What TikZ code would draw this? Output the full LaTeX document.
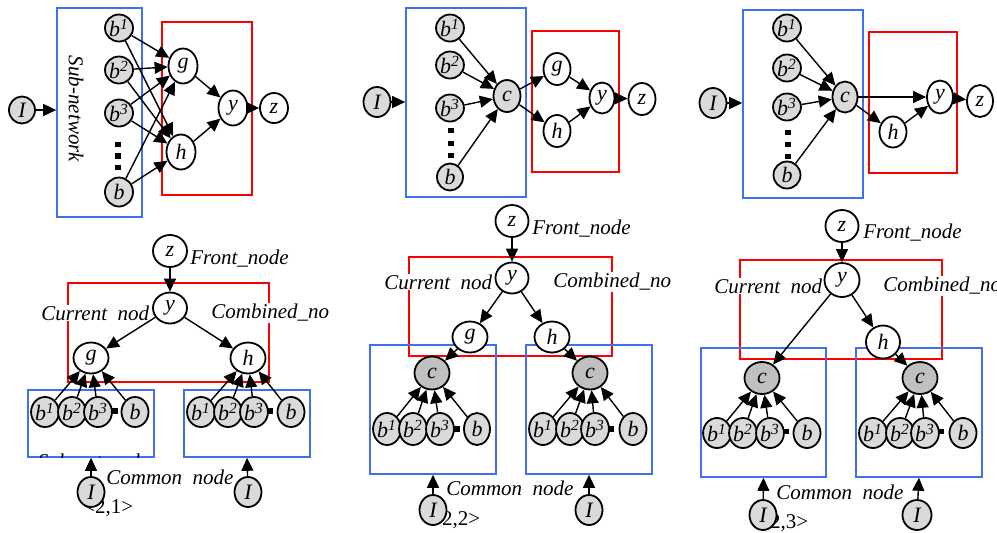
\documentclass[tikz,border=0pt]{standalone}
\usepackage{fontspec}
\setmainfont{Liberation Serif}
\usepackage{xcolor}
\usetikzlibrary{shapes.geometric, arrows.meta, positioning}
\definecolor{netblue}{RGB}{66,110,245}
\definecolor{bgray}{RGB}{218,218,218}
\definecolor{cgray}{RGB}{192,192,192}
\tikzset{
    bnode/.style={
        ellipse,
        line width=0.9pt,
        draw=black,
        fill=bgray,
        inner sep=0pt,
        minimum width=14pt,
        minimum height=14pt,
        font=\fontsize{11}{12}\selectfont\itshape,
    },
    wnode/.style={
        bnode,
        fill=white,
    },
    cnode/.style={
        bnode,
        fill=cgray,
    },
    sqdot/.style={
        rectangle,
        fill=black,
        inner sep=0pt,
        minimum width=3pt,
        minimum height=2.7pt,
    },
    bluebox/.style={
        rectangle,
        draw=netblue,
        line width=0.8pt,
        inner sep=0pt,
    },
    redbox/.style={
        rectangle,
        draw=red,
        line width=0.8pt,
        inner sep=0pt,
    },
    lbl/.style={
        font=\fontsize{10.5}{12}\selectfont\itshape,
        inner sep=0.5pt,
    },
    arr/.style={
        -{Triangle[length=6.5pt,width=6pt]},
        line width=0.7pt,
    },
}
\newcommand{\bsup}[1]{b\textsuperscript{#1}}

\begin{document}
\begin{tikzpicture}[x=0.5pt, y=-0.5pt]
    \useasboundingbox (0,0) rectangle (997,532);

    % ---------- top row ----------
    % panel <2,1>
    \node[bluebox, minimum width=42.5pt, minimum height=104.5pt] (t1net) at (99.5,112.5) {};
    \node[redbox, minimum width=45pt, minimum height=86.5pt] (t1cmb) at (207,108.5) {};
    \node[lbl, rotate=-90] at (76,109) {Sub-network};
    \node[bnode, minimum width=13pt, minimum height=13.5pt] (t1I) at (22,110) {I};
    \node[bnode, minimum height=13.5pt] (t1b1) at (119,28) {\bsup{1}};
    \node[bnode, minimum height=13.5pt] (t1b2) at (119,70) {\bsup{2}};
    \node[bnode, minimum height=13.5pt] (t1b3) at (119,113) {\bsup{3}};
    \node[bnode, minimum height=14.5pt] (t1b4) at (119,192) {b};
    \foreach \y [count=\i] in {144.5,156,167.5}
        \node[sqdot] (t1d\i) at (118,\y) {};
    \node[wnode, minimum width=14.5pt, minimum height=17.5pt] (t1g) at (183,66) {g};
    \node[wnode, minimum width=14.5pt, minimum height=17.5pt] (t1h) at (181,152) {h};
    \node[wnode, minimum width=14.5pt, minimum height=17.5pt] (t1y) at (233,108) {y};
    \node[wnode, minimum width=14pt, minimum height=15pt] (t1z) at (274,108) {z};
    \draw[arr] (t1I) -- (t1net.west |- t1I);
    \foreach \s in {b1,b2,b3,b4}
        \foreach \t in {g,h}
            \draw[arr] (t1\s) -- (t1\t);
    \draw[arr] (t1g) -- (t1y);
    \draw[arr] (t1h) -- (t1y);
    \draw[arr] (t1y) -- (t1z);

    % panel <2,2>
    \node[bluebox, minimum width=60pt, minimum height=94.5pt] (t2net) at (466,102.5) {};
    \node[redbox, minimum width=43.5pt, minimum height=70.5pt] (t2cmb) at (575.5,101.5) {};
    \node[bnode, minimum width=13.5pt, minimum height=15pt] (t2I) at (377,102) {I};
    \node[bnode, minimum width=13pt, minimum height=13.5pt] (t2b1) at (450,28) {\bsup{1}};
    \node[bnode, minimum width=13pt, minimum height=13.5pt] (t2b2) at (450,65) {\bsup{2}};
    \node[bnode, minimum width=13pt, minimum height=13.5pt] (t2b3) at (450,108) {\bsup{3}};
    \node[bnode, minimum width=13pt, minimum height=13.5pt] (t2b4) at (450,177) {b};
    \foreach \y [count=\i] in {130.5,143.5,155.5}
        \node[sqdot] (t2d\i) at (451,\y) {};
    \node[bnode, minimum width=13.5pt, minimum height=16pt] (t2c) at (507,96) {c};
    \node[wnode, minimum width=13.5pt, minimum height=16pt] (t2g) at (557,69) {g};
    \node[wnode, minimum width=13.5pt, minimum height=16pt] (t2h) at (557,131) {h};
    \node[wnode, minimum width=12.5pt, minimum height=15.5pt] (t2y) at (602,98) {y};
    \node[wnode, minimum width=13.5pt, minimum height=16pt] (t2z) at (642,99) {z};
    \draw[arr] (t2I) -- (t2net.west |- t2I);
    \foreach \s in {b1,b2,b3,b4}
        \draw[arr] (t2\s) -- (t2c);
    \draw[arr] (t2c) -- (t2g);
    \draw[arr] (t2c) -- (t2h);
    \draw[arr] (t2g) -- (t2y);
    \draw[arr] (t2h) -- (t2y);
    \draw[arr] (t2y) -- (t2z);

    % panel <2,3>
    \node[bluebox, minimum width=60pt, minimum height=94pt] (t3net) at (803,104) {};
    \node[redbox, minimum width=44pt, minimum height=70.5pt] (t3cmb) at (913,102.5) {};
    \node[bnode, minimum width=13.5pt, minimum height=15pt] (t3I) at (713,103) {I};
    \node[bnode, minimum width=13.5pt, minimum height=13.5pt] (t3b1) at (787,28) {\bsup{1}};
    \node[bnode, minimum width=13.5pt, minimum height=13.5pt] (t3b2) at (787,68) {\bsup{2}};
    \node[bnode, minimum width=13.5pt, minimum height=13.5pt] (t3b3) at (787,107) {\bsup{3}};
    \node[bnode, minimum width=13.5pt, minimum height=13.5pt] (t3b4) at (787,175) {b};
    \foreach \y [count=\i] in {132.5,144.5,156.5}
        \node[sqdot] (t3d\i) at (788,\y) {};
    \node[bnode, minimum width=12.5pt, minimum height=15.5pt] (t3c) at (845,97) {c};
    \node[wnode, minimum width=13.5pt, minimum height=15.5pt] (t3h) at (893,132) {h};
    \node[wnode, minimum width=13pt, minimum height=16.5pt] (t3y) at (940,97) {y};
    \node[wnode, minimum width=13pt, minimum height=16pt] (t3z) at (980,101) {z};
    \draw[arr] (t3I) -- (t3net.west |- t3I);
    \foreach \s in {b1,b2,b3,b4}
        \draw[arr] (t3\s) -- (t3c);
    \draw[arr] (t3c) -- (t3y);
    \draw[arr] (t3c) -- (t3h);
    \draw[arr] (t3h) -- (t3y);
    \draw[arr] (t3y) -- (t3z);

    % ---------- bottom row ----------
    % tree <2,1>
    \node[redbox, minimum width=100.5pt, minimum height=49.5pt] (u1cmb) at (168.5,332.5) {};
    \node[bluebox, minimum width=63pt, minimum height=33.5pt] (u1lnet) at (91,423.5) {};
    \node[bluebox, minimum width=63pt, minimum height=33.5pt] (u1rnet) at (247,423.5) {};
    \begin{scope}
        \clip (28,440) rectangle (154,457);
        \node[lbl, anchor=north] at (91,452.5) {Sub-network};
    \end{scope}
    \node[wnode, minimum width=17pt, minimum height=16pt] (u1z) at (170,251) {z};
    \node[wnode, minimum width=17pt, minimum height=15.5pt] (u1y) at (170,308) {y};
    \node[wnode, minimum width=17.5pt, minimum height=15.5pt] (u1g) at (91,358) {g};
    \node[wnode, minimum width=17.5pt, minimum height=15.5pt] (u1h) at (248,358) {h};
    \node[lbl, anchor=west] at (189,259) {Front\_node};
    \node[lbl, anchor=west, fill=white] at (40,313) {Current\ \ nod};
    \node[lbl, anchor=west, fill=white] at (210,313) {Combined\_no};
    \node[bnode, minimum width=13.5pt, minimum height=15pt] (u1lb1) at (45,412) {\bsup{1}};
    \node[bnode, minimum width=13.5pt, minimum height=15pt] (u1lb2) at (72,412) {\bsup{2}};
    \node[bnode, minimum width=13.5pt, minimum height=15pt] (u1lb3) at (98,412) {\bsup{3}};
    \node[bnode, minimum width=13.5pt, minimum height=15pt] (u1lb4) at (135,412) {b};
    \node[sqdot] (u1ld) at (115,411) {};
    \node[bnode, minimum width=13.5pt, minimum height=15pt] (u1rb1) at (201,412) {\bsup{1}};
    \node[bnode, minimum width=13.5pt, minimum height=15pt] (u1rb2) at (228,412) {\bsup{2}};
    \node[bnode, minimum width=13.5pt, minimum height=15pt] (u1rb3) at (254,412) {\bsup{3}};
    \node[bnode, minimum width=13.5pt, minimum height=15pt] (u1rb4) at (291,412) {b};
    \node[sqdot] (u1rd) at (270,411) {};
    \node[lbl, anchor=west] at (105,477) {Common\ \ node};
    \node[font=\fontsize{10.5}{12}\selectfont, anchor=west, inner sep=0pt] at (83,508) {<2,1>};
    \node[bnode, minimum width=13.5pt, minimum height=15pt] (u1lI) at (91,492) {I};
    \node[bnode, minimum width=13.5pt, minimum height=15pt] (u1rI) at (248,492) {I};
    \draw[arr] (u1z) -- (u1y);
    \draw[arr] (u1y) -- (u1g);
    \draw[arr] (u1y) -- (u1h);
    \foreach \s in {b1,b2,b3,b4} {
        \draw[arr] (u1l\s) -- (u1g);
        \draw[arr] (u1r\s) -- (u1h);
    }
    \draw[arr] (u1lI) -- (u1lnet.south);
    \draw[arr] (u1rI) -- (u1rnet.south);

    % tree <2,2>
    \node[redbox, minimum width=101.5pt, minimum height=49.5pt] (u2cmb) at (510.5,306.5) {};
    \node[bluebox, minimum width=63pt, minimum height=64.5pt] (u2lnet) at (433,409.5) {};
    \node[bluebox, minimum width=63pt, minimum height=64.5pt] (u2rnet) at (589,409.5) {};
    \node[wnode, minimum width=16.5pt, minimum height=16pt] (u2z) at (512,221) {z};
    \node[wnode, minimum width=16.5pt, minimum height=15.5pt] (u2y) at (512,278) {y};
    \node[wnode, minimum width=17.5pt, minimum height=15.5pt] (u2g) at (470,337) {g};
    \node[wnode, minimum width=17.5pt, minimum height=15.5pt] (u2h) at (552,337) {h};
    \node[lbl, anchor=west] at (531,229) {Front\_node};
    \node[lbl, anchor=west, fill=white] at (383,282) {Current\ \ nod};
    \node[lbl, anchor=west, fill=white] at (552,282) {Combined\_no};
    \node[cnode, minimum width=17.5pt, minimum height=16.5pt] (u2lc) at (432,373) {c};
    \node[cnode, minimum width=17.5pt, minimum height=16.5pt] (u2rc) at (590,373) {c};
    \node[bnode, minimum width=13.5pt, minimum height=16pt] (u2lb1) at (387,429) {\bsup{1}};
    \node[bnode, minimum width=13.5pt, minimum height=16pt] (u2lb2) at (413,429) {\bsup{2}};
    \node[bnode, minimum width=13.5pt, minimum height=16pt] (u2lb3) at (440,429) {\bsup{3}};
    \node[bnode, minimum width=13pt, minimum height=16pt] (u2lb4) at (477,429) {b};
    \node[sqdot] (u2ld) at (456.5,429) {};
    \node[bnode, minimum width=13.5pt, minimum height=16pt] (u2rb1) at (543,429) {\bsup{1}};
    \node[bnode, minimum width=13.5pt, minimum height=16pt] (u2rb2) at (570,429) {\bsup{2}};
    \node[bnode, minimum width=13.5pt, minimum height=16pt] (u2rb3) at (595,429) {\bsup{3}};
    \node[bnode, minimum width=13.5pt, minimum height=16pt] (u2rb4) at (633,429) {b};
    \node[sqdot] (u2rd) at (610.5,429) {};
    \node[lbl, anchor=west] at (445,488) {Common\ \ node};
    \node[font=\fontsize{10.5}{12}\selectfont, anchor=west, inner sep=0pt] at (430,520) {<2,2>};
    \node[bnode, minimum width=13.5pt, minimum height=15pt] (u2lI) at (433,510) {I};
    \node[bnode, minimum width=13.5pt, minimum height=15pt] (u2rI) at (589,510) {I};
    \draw[arr] (u2z) -- (u2y);
    \draw[arr] (u2y) -- (u2g);
    \draw[arr] (u2y) -- (u2h);
    \draw[arr] (u2g) -- (u2lc);
    \draw[arr] (u2h) -- (u2rc);
    \foreach \s in {b1,b2,b3,b4} {
        \draw[arr] (u2l\s) -- (u2lc);
        \draw[arr] (u2r\s) -- (u2rc);
    }
    \draw[arr] (u2lI) -- (u2lnet.south);
    \draw[arr] (u2rI) -- (u2rnet.south);

    % tree <2,3>
    \node[redbox, minimum width=101pt, minimum height=49.5pt] (u3cmb) at (841,309.5) {};
    \node[bluebox, minimum width=62.5pt, minimum height=64.5pt] (u3lnet) at (763.5,412.5) {};
    \node[bluebox, minimum width=63pt, minimum height=64.5pt] (u3rnet) at (919,412.5) {};
    \node[wnode, minimum width=16.5pt, minimum height=16pt] (u3z) at (842,226) {z};
    \node[wnode, minimum width=17.5pt, minimum height=17pt] (u3y) at (842,280) {y};
    \node[wnode, minimum width=17pt, minimum height=16.5pt] (u3h) at (883,342) {h};
    \node[lbl, anchor=west] at (862,233) {Front\_node};
    \node[lbl, anchor=west, fill=white] at (713,286) {Current\ \ nod};
    \node[lbl, anchor=west, fill=white] at (882,286) {Combined\_no};
    \node[cnode, minimum width=17.5pt, minimum height=16pt] (u3lc) at (762,378) {c};
    \node[cnode, minimum width=17.5pt, minimum height=16pt] (u3rc) at (920,378) {c};
    \node[bnode, minimum width=13.5pt, minimum height=15pt] (u3lb1) at (717,433) {\bsup{1}};
    \node[bnode, minimum width=13.5pt, minimum height=15pt] (u3lb2) at (743,433) {\bsup{2}};
    \node[bnode, minimum width=13.5pt, minimum height=15pt] (u3lb3) at (770,433) {\bsup{3}};
    \node[bnode, minimum width=13.5pt, minimum height=15pt] (u3lb4) at (807,433) {b};
    \node[sqdot] (u3ld) at (785.5,431.5) {};
    \node[bnode, minimum width=13.5pt, minimum height=15pt] (u3rb1) at (873,433) {\bsup{1}};
    \node[bnode, minimum width=13.5pt, minimum height=15pt] (u3rb2) at (900,433) {\bsup{2}};
    \node[bnode, minimum width=13.5pt, minimum height=15pt] (u3rb3) at (925,433) {\bsup{3}};
    \node[bnode, minimum width=13.5pt, minimum height=15pt] (u3rb4) at (963,433) {b};
    \node[sqdot] (u3rd) at (940.5,431.5) {};
    \node[lbl, anchor=west] at (775,492) {Common\ \ node};
    \node[font=\fontsize{10.5}{12}\selectfont, anchor=west, inner sep=0pt] at (758,523) {<2,3>};
    \node[bnode, minimum width=13.5pt, minimum height=15pt] (u3lI) at (763,515) {I};
    \node[bnode, minimum width=14.5pt, minimum height=15pt] (u3rI) at (917,515) {I};
    \draw[arr] (u3z) -- (u3y);
    \draw[arr] (u3y) -- (u3lc);
    \draw[arr] (u3y) -- (u3h);
    \draw[arr] (u3h) -- (u3rc);
    \foreach \s in {b1,b2,b3,b4} {
        \draw[arr] (u3l\s) -- (u3lc);
        \draw[arr] (u3r\s) -- (u3rc);
    }
    \draw[arr] (u3lI) -- (u3lnet.south);
    \draw[arr] (u3rI) -- (u3rnet.south);
\end{tikzpicture}
\end{document}
